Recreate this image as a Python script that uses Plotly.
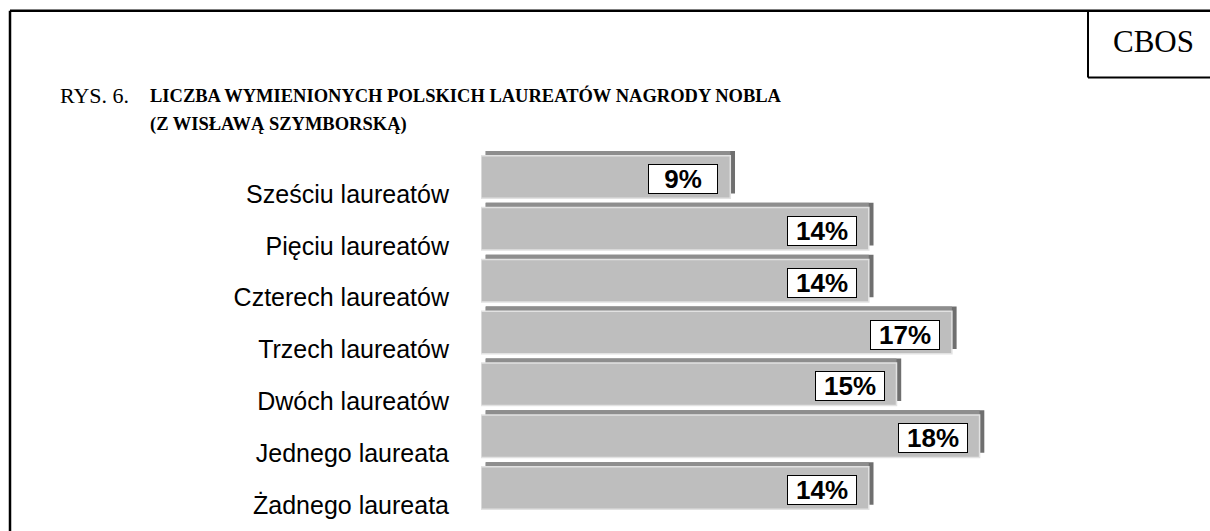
import plotly.graph_objects as go

# Data
categories = [
    "Sześciu laureatów",
    "Pięciu laureatów",
    "Czterech laureatów",
    "Trzech laureatów",
    "Dwóch laureatów",
    "Jednego laureata",
    "Żadnego laureata",
]
values = [9, 14, 14, 17, 15, 18, 14]
value_labels = [f"{v}%" for v in values]

title_prefix = "RYS. 6."
title_lines = [
    "LICZBA WYMIENIONYCH POLSKICH LAUREATÓW NAGRODY NOBLA",
    "(Z WISŁAWĄ SZYMBORSKĄ)",
]
source = "CBOS"

# Layout geometry (pixels)
W, H = 1210, 531
L, R, T, B = 481, 175, 151, 15


def px(x):
    return (x - L) / (W - L - R)


def py(y):
    return (H - B - y) / (H - T - B)


bar_w = 0.82
dx = 0.17  # depth of the 3D bar, in % units
dy = 0.09  # depth of the 3D bar, in category units

fig = go.Figure()

# side face (dark), shifted right and up
fig.add_trace(go.Bar(
    y=categories, x=values, base=[dx] * len(values), orientation="h",
    width=bar_w, offset=-bar_w / 2 - dy,
    marker=dict(color="#6f6f6f", line=dict(width=0)),
    hoverinfo="skip", showlegend=False,
))
# top face
fig.add_trace(go.Bar(
    y=categories, x=[v - dx for v in values], base=[dx] * len(values), orientation="h",
    width=bar_w, offset=-bar_w / 2 - dy,
    marker=dict(color="#8e8e8e", line=dict(width=0)),
    hoverinfo="skip", showlegend=False,
))
# front face
fig.add_trace(go.Bar(
    y=categories, x=values, orientation="h",
    width=bar_w, offset=-bar_w / 2,
    marker=dict(color="#bebebe", line=dict(color="#e2e2e2", width=1.5)),
    showlegend=False,
))

# value boxes
for cat, v, lab in zip(categories, values, value_labels):
    fig.add_annotation(
        x=v, y=cat, xref="x", yref="y", text=lab, showarrow=False,
        xanchor="right", xshift=-12, yshift=-2,
        width=66, height=26, align="center",
        bgcolor="white", bordercolor="black", borderwidth=1, borderpad=1,
        font=dict(family="Liberation Sans, Arial", size=26, color="black", weight="bold"),
    )

# title
fig.add_annotation(
    x=px(58), y=py(95), xref="paper", yref="paper", text=title_prefix,
    showarrow=False, xanchor="left", yanchor="middle",
    font=dict(family="Liberation Serif, Times New Roman", size=22, color="black"),
)
for i, line in enumerate(title_lines):
    fig.add_annotation(
        x=px(148), y=py(95 + 29 * i), xref="paper", yref="paper", text=line,
        showarrow=False, xanchor="left", yanchor="middle",
        font=dict(family="Liberation Serif, Times New Roman", size=18.5, color="black", weight="bold"),
    )

# source box
fig.add_annotation(
    x=px(1153), y=py(41), xref="paper", yref="paper", text=source,
    showarrow=False, xanchor="center", yanchor="middle",
    font=dict(family="Liberation Serif, Times New Roman", size=31, color="black"),
)

frame = dict(color="black", width=2.5)
fig.add_shape(type="line", xref="paper", yref="paper",
              x0=px(10), x1=px(10), y0=py(10), y1=py(H + 10), line=frame)
fig.add_shape(type="line", xref="paper", yref="paper",
              x0=px(10), x1=px(W + 10), y0=py(10), y1=py(10), line=frame)
fig.add_shape(type="line", xref="paper", yref="paper",
              x0=px(1088), x1=px(1088), y0=py(10), y1=py(77), line=dict(color="black", width=2))
fig.add_shape(type="line", xref="paper", yref="paper",
              x0=px(1088), x1=px(W + 10), y0=py(77), y1=py(77), line=dict(color="black", width=2))

fig.update_layout(
    width=W, height=H,
    margin=dict(l=L, r=R, t=T, b=B),
    barmode="overlay",
    plot_bgcolor="white", paper_bgcolor="white",
    xaxis=dict(visible=False, range=[0, 20], fixedrange=True),
    yaxis=dict(
        type="category", autorange=False, range=[6.5, -0.5],
        showgrid=False, showline=False, zeroline=False, ticks="",
        ticklabelstandoff=31, ticklabelshift=-17,
        tickfont=dict(family="Liberation Sans, Arial", size=25, color="black"),
    ),
)

fig.write_html(
    "out.html",
    config={"displayModeBar": False},
    post_script="document.body.style.margin='0';",
)
